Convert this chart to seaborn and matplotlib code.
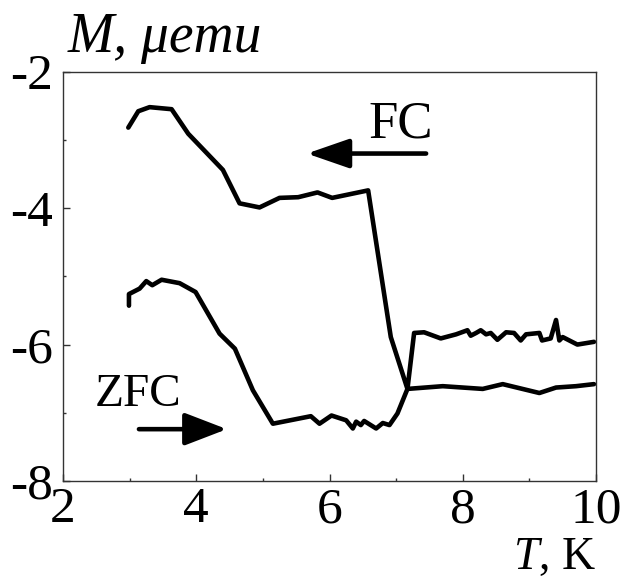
import numpy as np
import pandas as pd
import matplotlib
matplotlib.use("Agg")
import matplotlib.pyplot as plt
import seaborn as sns

# FC curve (cooling in field)
fc_T = [2.98, 3.13, 3.30, 3.63, 3.88, 4.40, 4.65, 4.95, 5.25, 5.53, 5.82, 6.04, 6.58,
        6.92, 7.17, 7.27, 7.42, 7.67, 7.90, 8.07, 8.12, 8.20, 8.27, 8.35, 8.42, 8.52,
        8.65, 8.77, 8.87, 8.95, 9.15, 9.19, 9.32, 9.40, 9.45, 9.50, 9.72, 9.97]
fc_M = [-2.82, -2.58, -2.52, -2.55, -2.91, -3.44, -3.93, -3.99, -3.85, -3.84, -3.77, -3.85, -3.74,
        -5.89, -6.65, -5.83, -5.82, -5.91, -5.85, -5.79, -5.87, -5.83, -5.79, -5.85, -5.83, -5.93,
        -5.82, -5.83, -5.94, -5.85, -5.83, -5.94, -5.91, -5.64, -5.94, -5.89, -6.00, -5.96]

# ZFC curve (warming after zero-field cooling)
zfc_T = [2.99, 2.99, 3.15, 3.25, 3.34, 3.48, 3.75, 3.99, 4.35, 4.58, 4.85, 5.15, 5.72,
         5.85, 6.03, 6.25, 6.35, 6.40, 6.47, 6.52, 6.70, 6.80, 6.90, 7.02, 7.17,
         7.70, 8.30, 8.60, 9.15, 9.40, 9.70, 9.97]
zfc_M = [-5.43, -5.26, -5.18, -5.07, -5.13, -5.05, -5.10, -5.23, -5.84, -6.06, -6.67, -7.16, -7.05,
         -7.16, -7.04, -7.11, -7.23, -7.13, -7.18, -7.12, -7.23, -7.15, -7.18, -7.01, -6.65,
         -6.61, -6.65, -6.58, -6.71, -6.63, -6.61, -6.58]

x_ticks = [2, 4, 6, 8, 10]
y_ticks = [-2, -4, -6, -8]

df = pd.concat([
    pd.DataFrame({"T": fc_T, "M": fc_M, "curve": "FC"}),
    pd.DataFrame({"T": zfc_T, "M": zfc_M, "curve": "ZFC"}),
], ignore_index=True)

sns.set_style("ticks")
plt.rcParams["font.family"] = ["Liberation Serif", "DejaVu Serif"]
plt.rcParams["mathtext.fontset"] = "custom"
plt.rcParams["mathtext.rm"] = "Liberation Serif"
plt.rcParams["mathtext.it"] = "Liberation Serif:italic"
plt.rcParams["axes.unicode_minus"] = False
plt.rcParams["text.color"] = "black"
plt.rcParams["xtick.labelcolor"] = "black"
plt.rcParams["ytick.labelcolor"] = "black"

fig = plt.figure(figsize=(6.25, 5.78), dpi=100)
ax = fig.add_axes([0.1008, 0.1678, 0.8528, 0.7082])

for name, grp in df.groupby("curve"):
    sns.lineplot(data=grp, x="T", y="M", sort=False, estimator=None,
                 color="black", lw=3.3, ax=ax, legend=False)

ax.set_xlim(2, 10)
ax.set_ylim(-8, -2)
ax.set_xticks(x_ticks)
ax.set_xticklabels([str(v) for v in x_ticks])
ax.set_yticks(y_ticks)
ax.set_yticklabels([str(v) for v in y_ticks])
ax.set_xticks([3, 5, 7, 9], minor=True)
ax.set_yticks([-3, -5, -7], minor=True)
ax.tick_params(which="both", direction="in", color="#333333", width=1,
               labelcolor="black")
ax.tick_params(which="major", length=5)
ax.tick_params(which="minor", length=2.5)
ax.tick_params(axis="x", which="major", labelsize=37, pad=4)
ax.tick_params(axis="y", which="major", labelsize=37, pad=7)
for s in ax.spines.values():
    s.set_color("#333333")
    s.set_linewidth(1.0)
ax.set_xlabel("")
ax.set_ylabel("")

# arrows and curve names
ax.annotate("", xy=(5.66, -3.20), xytext=(7.45, -3.20),
            arrowprops=dict(arrowstyle="-|>,head_length=1.3,head_width=0.45",
                            color="black", lw=3.3, mutation_scale=20, shrinkA=0, shrinkB=0))
ax.annotate("", xy=(4.46, -7.24), xytext=(3.14, -7.24),
            arrowprops=dict(arrowstyle="-|>,head_length=1.3,head_width=0.5",
                            color="black", lw=3.3, mutation_scale=20, shrinkA=0, shrinkB=0))
ax.text(6.58, -2.96, "FC", fontsize=38, color="black", ha="left", va="baseline")
ax.text(2.47, -6.90, "ZFC", fontsize=34, color="black", ha="left", va="baseline")

fig.text(68 / 625, 1 - 52 / 578, "M, μemu", fontsize=40, style="italic",
         color="black", ha="left", va="baseline")
fig.text(596 / 625, 1 - 569 / 578, r"$T$, K", fontsize=33, color="black",
         ha="right", va="baseline")

fig.savefig("out.png", dpi=100)
